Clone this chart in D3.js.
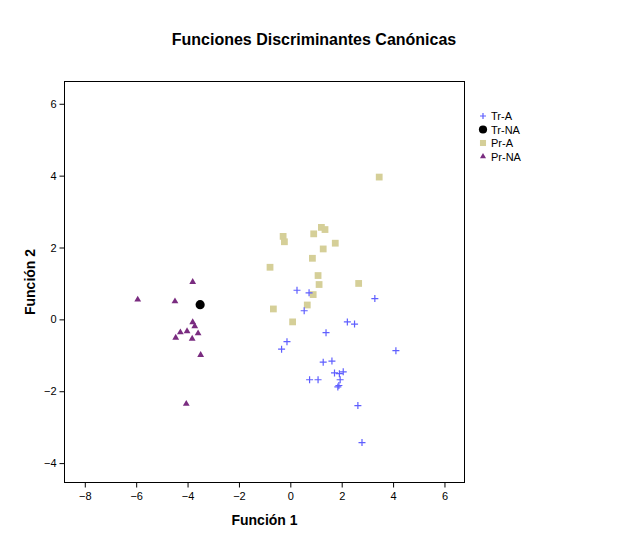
<!DOCTYPE html>
<html>
<head>
<meta charset="utf-8">
<script src="https://cdn.jsdelivr.net/npm/d3@7"></script>
<style>
  body { margin: 0; background: #fff; }
  text { font-family: "Liberation Sans", Arial, sans-serif; }
</style>
</head>
<body>
<div id="chart"></div>
<script>
// group names and scores (Función 1, Función 2)
var grupos = ["Tr-A", "Tr-NA", "Pr-A", "Pr-NA"];

var trA = [
  [0.26, 0.81], [0.73, 0.74], [3.29, 0.58], [0.54, 0.24], [2.22, -0.07],
  [2.50, -0.13], [1.39, -0.37], [-0.13, -0.62], [-0.34, -0.83], [4.11, -0.87],
  [1.28, -1.19], [1.62, -1.16], [1.72, -1.49], [1.91, -1.51], [2.06, -1.46],
  [1.94, -1.68], [0.75, -1.68], [1.08, -1.68], [1.85, -1.88], [1.89, -1.84],
  [2.63, -2.40], [2.79, -3.43]
];
var trNA = [[-3.51, 0.41]];
var prA = [
  [3.46, 3.96], [1.21, 2.56], [1.35, 2.50], [-0.28, 2.31], [0.91, 2.38],
  [-0.23, 2.16], [1.75, 2.12], [1.28, 1.96], [0.86, 1.70], [-0.79, 1.45],
  [1.08, 1.22], [1.12, 0.97], [2.66, 1.00], [0.89, 0.69], [0.66, 0.40],
  [-0.66, 0.29], [0.09, -0.07]
];
var prNA = [
  [-3.80, 1.04], [-5.94, 0.55], [-4.49, 0.50], [-3.80, -0.08], [-3.72, -0.19],
  [-4.28, -0.36], [-4.02, -0.33], [-3.59, -0.39], [-4.46, -0.51], [-3.82, -0.54],
  [-3.49, -0.99], [-4.05, -2.35]
];

var xTicks = [-8, -6, -4, -2, 0, 2, 4, 6];
var yTicks = [-4, -2, 0, 2, 4, 6];

const width = 629
const height = 544
const plot = {left: 64.5, right: 464.5, top: 81.5, bottom: 482.5}

let svg = d3.select('#chart')
  .append('svg')
  .attr('width', width)
  .attr('height', height)

let x = d3.scaleLinear().domain([-8.79, 6.78]).range([plot.left, plot.right])
let y = d3.scaleLinear().domain([-4.54, 6.62]).range([plot.bottom, plot.top])

svg.append('text')
  .attr('x', 314)
  .attr('y', 45)
  .attr('text-anchor', 'middle')
  .style('font-size', '16px')
  .style('font-weight', 'bold')
  .text('Funciones Discriminantes Canónicas')

// frame
svg.append('rect')
  .attr('x', plot.left)
  .attr('y', plot.top)
  .attr('width', plot.right - plot.left)
  .attr('height', plot.bottom - plot.top)
  .attr('fill', 'none')
  .attr('stroke', '#000')
  .attr('stroke-width', 1)

let xAxis = svg.append('g')
  .attr('transform', 'translate(0,' + plot.bottom + ')')
  .call(d3.axisBottom(x).tickValues(xTicks).tickSize(5).tickPadding(5).tickFormat(d3.format('d')))
let yAxis = svg.append('g')
  .attr('transform', 'translate(' + plot.left + ',0)')
  .call(d3.axisLeft(y).tickValues(yTicks).tickSize(5).tickPadding(3).tickFormat(d3.format('d')))

;[xAxis, yAxis].forEach(a => {
  a.select('.domain').remove()
  a.selectAll('text')
    .style('font-family', '"Liberation Sans", Arial, sans-serif')
    .style('font-size', '11px')
    .attr('fill', '#000')
})

svg.append('text')
  .attr('x', (plot.left + plot.right) / 2)
  .attr('y', 525)
  .attr('text-anchor', 'middle')
  .style('font-size', '14px')
  .style('font-weight', 'bold')
  .text('Función 1')

svg.append('text')
  .attr('transform', 'translate(35,' + ((plot.top + plot.bottom) / 2) + ') rotate(-90)')
  .attr('text-anchor', 'middle')
  .style('font-size', '14px')
  .style('font-weight', 'bold')
  .text('Función 2')

let estilos = {
  'Tr-A': {sym: d3.symbolCross, fill: 'none', stroke: '#5f5fff', size: 0},
  'Tr-NA': {sym: d3.symbolCircle, fill: '#000', size: 66},
  'Pr-A': {sym: d3.symbolSquare, fill: '#d5cf98', size: 46},
  'Pr-NA': {sym: d3.symbolTriangle, fill: '#7a2c80', size: 20}
}

function plus(g, cx, cy, r, col) {
  g.append('path')
    .attr('d', 'M' + (cx - r) + ',' + cy + 'H' + (cx + r) + 'M' + cx + ',' + (cy - r) + 'V' + (cy + r))
    .attr('stroke', col)
    .attr('stroke-width', 1.2)
    .attr('fill', 'none')
}

let series = [trA, trNA, prA, prNA]
let marks = svg.append('g')

// draw in order so squares sit under crosses like the picture
;[2, 3, 1, 0].forEach(k => {
  let nome = grupos[k]
  let st = estilos[nome]
  series[k].forEach(d => {
    if (nome == 'Tr-A') {
      plus(marks, x(d[0]), y(d[1]), 3.5, st.stroke)
    } else {
      marks.append('path')
        .attr('d', d3.symbol().type(st.sym).size(st.size)())
        .attr('transform', 'translate(' + x(d[0]) + ',' + y(d[1]) + ')')
        .attr('fill', st.fill)
    }
  })
})

// legend
let leg = svg.append('g')
grupos.forEach((nome, i) => {
  let yy = 116 + i * 13.5
  let st = estilos[nome]
  if (nome == 'Tr-A') {
    plus(leg, 483, yy, 3, st.stroke)
  } else {
    leg.append('path')
      .attr('d', d3.symbol().type(st.sym).size(st.size * 0.8)())
      .attr('transform', 'translate(483,' + yy + ')')
      .attr('fill', st.fill)
  }
  leg.append('text')
    .attr('x', 491)
    .attr('y', yy + 4)
    .style('font-size', '11px')
    .text(nome)
})
</script>
</body>
</html>
